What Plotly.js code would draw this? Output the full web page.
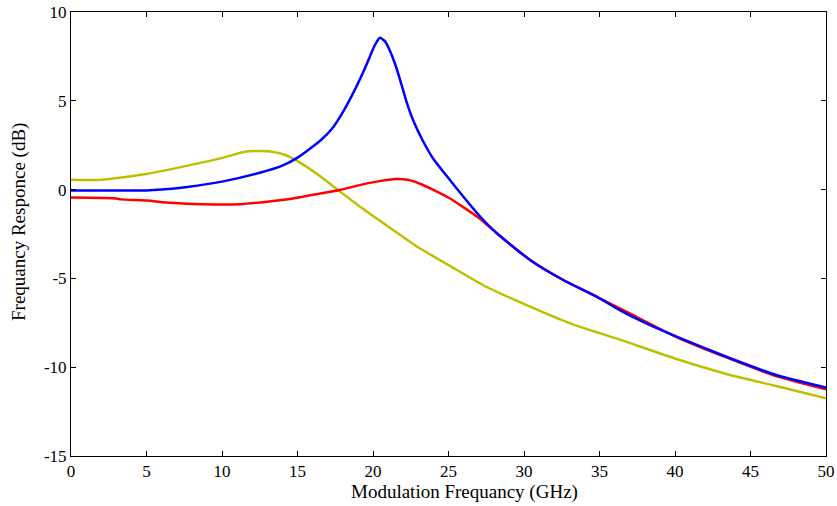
<!DOCTYPE html>
<html>
<head>
<meta charset="utf-8">
<script src="https://cdn.plot.ly/plotly-3.0.1.min.js"></script>
<style>html,body{margin:0;padding:0;background:#fff;}#chart{width:837px;height:506px;}</style>
</head>
<body>
<div id="chart"></div>
<script>
const blueX = [0, 2, 5, 6, 7.7, 10, 12.5, 14, 15, 16.5, 17.35, 18.1, 18.9, 19.4, 19.8, 20.1, 20.46, 20.8, 21.1, 21.45, 21.8, 22.2, 22.65, 23.3, 24, 24.9, 26, 26.9, 28.2, 30.4, 32.6, 34.8, 36.4, 38.2, 40.1, 43.4, 46.7, 50];
const blueY = [-0.05, -0.05, -0.05, 0.0, 0.15, 0.45, 0.95, 1.35, 1.8, 2.75, 3.5, 4.5, 5.8, 6.7, 7.5, 8.1, 8.55, 8.35, 7.86, 7.1, 6.17, 5.0, 3.92, 2.75, 1.72, 0.75, -0.42, -1.33, -2.46, -3.96, -5.09, -6.03, -6.82, -7.58, -8.28, -9.41, -10.44, -11.15];

const redX = [0, 3, 3.3, 5, 6.6, 8.7, 11.2, 13, 14.7, 16.5, 17.8, 19.6, 21.5, 22.3, 23.2, 24, 25.1, 26, 27.1, 28.2, 30.4, 32.6, 34.8, 37, 40.1, 43.4, 46.7, 50];
const redY = [-0.45, -0.5, -0.55, -0.62, -0.74, -0.82, -0.82, -0.68, -0.5, -0.22, -0.02, 0.35, 0.6, 0.55, 0.3, -0.02, -0.5, -1.0, -1.65, -2.46, -3.96, -5.09, -6.03, -6.97, -8.3, -9.45, -10.5, -11.25];

const yelX = [0, 2, 5, 8.1, 9.9, 11.6, 13.2, 14.2, 15.17, 16.5, 17.8, 19.2, 20.7, 22.9, 25.2, 27.5, 30.4, 33.05, 36.36, 40.1, 43.4, 46.7, 50];
const yelY = [0.55, 0.55, 0.88, 1.42, 1.76, 2.15, 2.15, 1.95, 1.52, 0.75, -0.1, -1.0, -1.9, -3.2, -4.35, -5.47, -6.59, -7.53, -8.45, -9.54, -10.38, -11.06, -11.75];

const xTicks = [0, 5, 10, 15, 20, 25, 30, 35, 40, 45, 50];
const yTicks = [-15, -10, -5, 0, 5, 10];
const yTickText = ["-15", "-10", "-5", "0", "5", "10"];
const xTitle = "Modulation Frequancy (GHz)";
const yTitle = "Frequancy Responce (dB)";

const tickFont = {family: "Liberation Serif, Times New Roman, serif", size: 17, color: "#000"};
const titleFont = {family: "Liberation Serif, Times New Roman, serif", size: 19, color: "#000"};
const lineStyle = (c) => ({color: c, width: 2.5, shape: "spline", smoothing: 0.5});
const traces = [
  {x: yelX, y: yelY, mode: "lines", line: lineStyle("#BFBF00")},
  {x: redX, y: redY, mode: "lines", line: lineStyle("#FF0000")},
  {x: blueX, y: blueY, mode: "lines", line: lineStyle("#0000FF")}
];
const axisCommon = {
  showline: true, linecolor: "#000", linewidth: 1, mirror: "ticks",
  ticks: "inside", ticklen: 5, tickcolor: "#000", tickwidth: 1,
  showgrid: false, zeroline: false, tickfont: tickFont
};
const layout = {
  width: 837, height: 506,
  margin: {l: 71, r: 11, t: 12, b: 50},
  paper_bgcolor: "#fff", plot_bgcolor: "#fff",
  showlegend: false,
  font: tickFont,
  xaxis: Object.assign({}, axisCommon, {range: [0, 50], tickvals: xTicks}),
  yaxis: Object.assign({}, axisCommon, {range: [-15, 10], tickvals: yTicks, ticktext: yTickText}),
  annotations: [
    {text: xTitle, xref: "paper", yref: "paper", x: (465 - 71) / 755, y: -(492 - 456) / 444,
     xanchor: "center", yanchor: "middle", showarrow: false, font: titleFont},
    {text: yTitle, xref: "paper", yref: "paper", x: -(71 - 19) / 755, y: (456 - 222) / 444,
     xanchor: "center", yanchor: "middle", textangle: -90, showarrow: false, font: titleFont}
  ]
};
Plotly.newPlot("chart", traces, layout, {staticPlot: true, displayModeBar: false});
</script>
</body>
</html>
